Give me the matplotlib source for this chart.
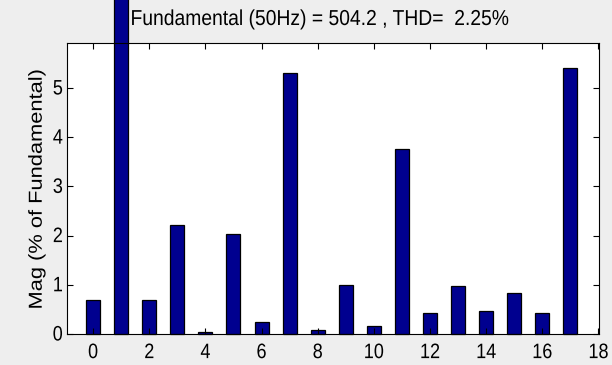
import numpy as np
import matplotlib
matplotlib.use("Agg")
import matplotlib.pyplot as plt
from matplotlib.patheffects import AbstractPathEffect
from matplotlib.transforms import Affine2D

# harmonic order and magnitude (% of fundamental)
harmonics = list(range(18))
mag = [0.70, 100.0, 0.70, 2.22, 0.04, 2.04, 0.24, 5.30, 0.08, 1.00,
       0.17, 3.76, 0.42, 0.97, 0.46, 0.84, 0.42, 5.40]
fund_freq = 50
fund_mag = 504.2
thd = 2.25


class Stretch(AbstractPathEffect):
    """Scale text glyphs in their own coordinates (tall, narrow look)."""
    def __init__(self, sx=1.0, sy=1.0):
        super().__init__()
        self.sx = sx
        self.sy = sy

    def draw_path(self, renderer, gc, tpath, affine, rgbFace=None):
        renderer.draw_path(gc, tpath, Affine2D().scale(self.sx, self.sy) + affine, rgbFace)


plt.rcParams['font.family'] = ['Liberation Sans', 'DejaVu Sans']

fig = plt.figure(figsize=(6.12, 3.65), dpi=100, facecolor='#eeeeee')
ax = fig.add_axes([67/612, 1 - 334/365, (599-67)/612, (334-42.7)/365])

bars = ax.bar(harmonics, mag, width=0.5, color='#00008f', edgecolor='black',
              linewidth=0.9, zorder=1)
for b in bars:
    b.set_clip_on(False)

ax.set_xlim(-0.93, 18.02)
ax.set_ylim(0, 5.92)
ax.set_xticks(range(0, 19, 2))
ax.set_yticks(range(0, 6))
ax.tick_params(direction='in', top=True, right=True, length=4, width=0.8,
               labelsize=13)
ax.tick_params(axis='x', pad=8)
ax.tick_params(axis='y', pad=3)
for lab in ax.get_xticklabels() + ax.get_yticklabels():
    lab.set_path_effects([Stretch(sy=1.16)])
for s in ax.spines.values():
    s.set_linewidth(0.8)
    s.set_zorder(3)

ylab = fig.text(41.7/612, 1 - 309.5/365, 'Mag (% of Fundamental)', rotation=90,
                rotation_mode='anchor', ha='left', va='baseline', fontsize=13.5)
ylab.set_path_effects([Stretch(sx=1.165)])

title = fig.text(130.5/612, 1 - 25/365,
                 'Fundamental (%dHz) = %.1f , THD=  %.2f%%' % (fund_freq, fund_mag, thd),
                 ha='left', va='baseline', fontsize=13.9)
title.set_path_effects([Stretch(sy=1.12)])

fig.savefig('out.png', dpi=100, facecolor=fig.get_facecolor())
